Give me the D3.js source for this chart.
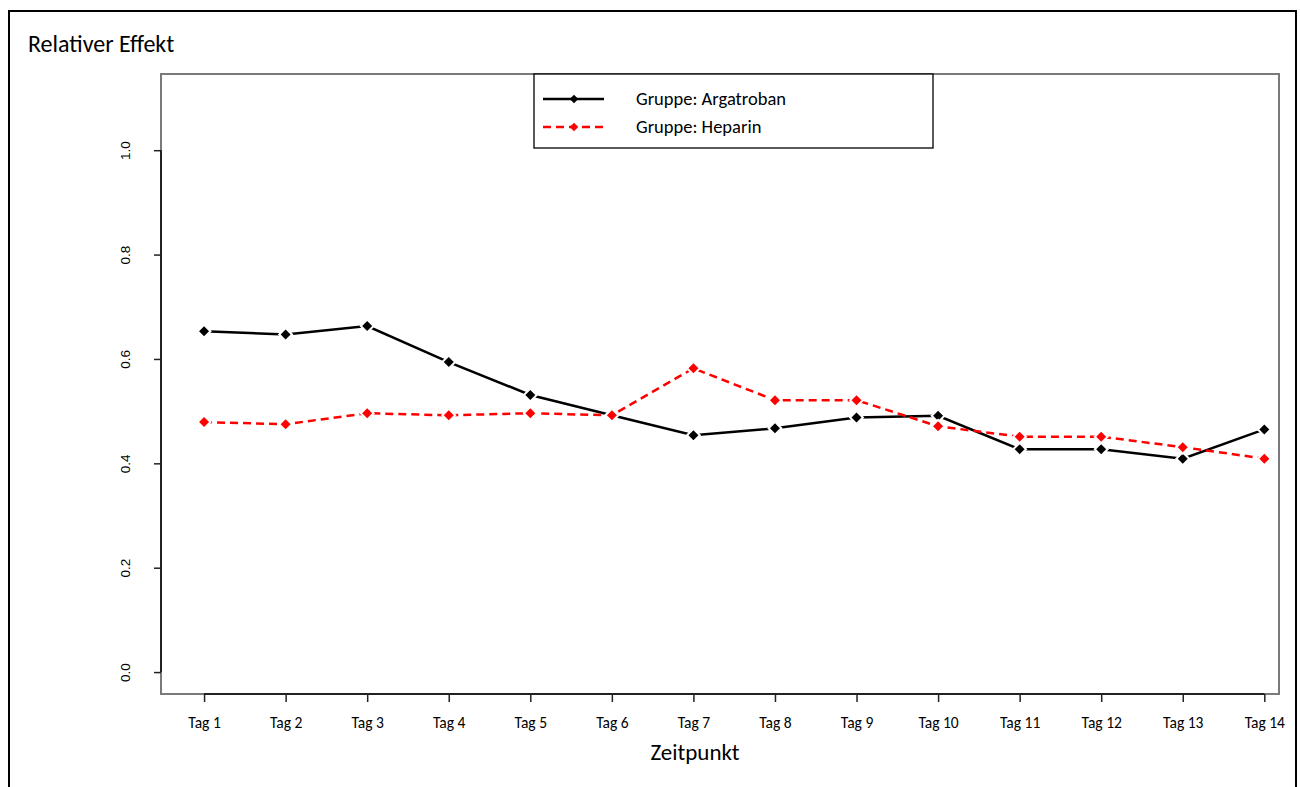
<!DOCTYPE html>
<html>
<head>
<meta charset="utf-8">
<script src="https://cdn.jsdelivr.net/npm/d3@7/dist/d3.min.js"></script>
<style>
  html, body { margin: 0; padding: 0; background: #fff; }
  svg { display: block; }
</style>
</head>
<body>
<svg id="chart" width="1300" height="787"></svg>
<script>
const categories = ["Tag 1","Tag 2","Tag 3","Tag 4","Tag 5","Tag 6","Tag 7","Tag 8","Tag 9","Tag 10","Tag 11","Tag 12","Tag 13","Tag 14"];
const argatroban = [0.653, 0.647, 0.663, 0.594, 0.531, 0.492, 0.454, 0.467, 0.488, 0.491, 0.427, 0.427, 0.409, 0.465];
const heparin    = [0.479, 0.475, 0.496, 0.492, 0.496, 0.492, 0.582, 0.521, 0.521, 0.471, 0.451, 0.451, 0.431, 0.409];
const yTicks = [0.0, 0.2, 0.4, 0.6, 0.8, 1.0];
const seriesNames = ["Gruppe: Argatroban", "Gruppe: Heparin"];
const seriesColors = ["#000000", "#ff0000"];

const calibri = "Carlito, Calibri, Lato, sans-serif";
const arial = "'Liberation Sans', Arial, sans-serif";

const svg = d3.select("#chart");

// outer frame
svg.append("rect").attr("x", 9).attr("y", 11).attr("width", 1287).attr("height", 800)
  .attr("fill", "none").attr("stroke", "#000").attr("stroke-width", 2);

svg.append("text").attr("x", 28).attr("y", 52).attr("font-family", calibri)
  .attr("font-size", 24).attr("fill", "#000").text("Relativer Effekt");

const L = 161, R = 1279, T = 74, B = 694;
const x = d3.scaleLinear().domain([0.472, 14.18]).range([L, R]);
const y = d3.scaleLinear().domain([-0.042, 1.146]).range([B, T]);

// plot box
svg.append("rect").attr("x", L).attr("y", T).attr("width", R - L).attr("height", B - T)
  .attr("fill", "none").attr("stroke", "#7a7a7a").attr("stroke-width", 2);

// y axis
const yAxis = d3.axisLeft(y).tickValues(yTicks).tickFormat(d3.format(".1f")).tickSize(7).tickPadding(0);
const gy = svg.append("g").attr("transform", `translate(${L},0)`).call(yAxis);
gy.select(".domain").remove();
gy.append("line").attr("x1", 0).attr("x2", 0).attr("y1", y(0)).attr("y2", y(1))
  .attr("stroke", "#222").attr("stroke-width", 2);
gy.selectAll(".tick line").attr("stroke", "#222").attr("stroke-width", 1.5);
gy.selectAll(".tick text")
  .attr("font-family", arial).attr("font-size", 13.5).attr("fill", "#000")
  .attr("text-anchor", "middle")
  .attr("transform", "translate(-31,0) rotate(-90)").attr("x", 0).attr("y", 0).attr("dy", 0);

// x axis
const xAxis = d3.axisBottom(x).tickValues(d3.range(1, categories.length + 1))
  .tickFormat(i => categories[i - 1]).tickSize(8).tickPadding(0);
const gx = svg.append("g").attr("transform", `translate(0,${B})`).call(xAxis);
gx.select(".domain").remove();
gx.append("line").attr("x1", x(1)).attr("x2", x(categories.length)).attr("y1", 0).attr("y2", 0)
  .attr("stroke", "#222").attr("stroke-width", 2);
gx.selectAll(".tick line").attr("stroke", "#222").attr("stroke-width", 1.5);
gx.selectAll(".tick text").attr("font-family", calibri).attr("font-size", 15.5)
  .attr("fill", "#000").attr("y", 34).attr("dy", 0);

svg.append("text").attr("x", (L + R) / 2 - 25).attr("y", 760).attr("text-anchor", "middle")
  .attr("font-family", calibri).attr("font-size", 23).attr("fill", "#000").text("Zeitpunkt");

// series
const diamondPath = r => `M0,${-r}L${r},0L0,${r}L${-r},0Z`;
function drawSeries(vals, color, dash) {
  const pts = vals.map((v, i) => [x(i + 1), y(v)]);
  svg.append("path").attr("d", d3.line()(pts)).attr("fill", "none")
    .attr("stroke", color).attr("stroke-width", 2.5)
    .attr("stroke-dasharray", dash || null);
  const g = svg.append("g");
  g.selectAll("path.halo").data(pts).join("path").attr("class", "halo")
    .attr("transform", d => `translate(${d[0]},${d[1]})`)
    .attr("d", diamondPath(7.8)).attr("fill", "#fff");
  g.selectAll("path.pt").data(pts).join("path").attr("class", "pt")
    .attr("transform", d => `translate(${d[0]},${d[1]})`)
    .attr("d", diamondPath(5)).attr("fill", color);
}
drawSeries(argatroban, seriesColors[0], null);
drawSeries(heparin, seriesColors[1], "8,5");

// legend
const lg = svg.append("g");
lg.append("rect").attr("x", 534).attr("y", T).attr("width", 399).attr("height", 74)
  .attr("fill", "#fff").attr("stroke", "#000").attr("stroke-width", 1.3);
seriesNames.forEach((name, i) => {
  const yy = 99 + i * 28;
  lg.append("line").attr("x1", 543).attr("x2", 604).attr("y1", yy).attr("y2", yy)
    .attr("stroke", seriesColors[i]).attr("stroke-width", 2.5)
    .attr("stroke-dasharray", i === 1 ? "8,5" : null);
  lg.append("path").attr("transform", `translate(574,${yy})`).attr("d", diamondPath(4.3))
    .attr("fill", seriesColors[i]);
  lg.append("text").attr("x", 636).attr("y", yy + 6).attr("font-family", calibri)
    .attr("font-size", 18.5).attr("fill", "#000").text(name);
});
</script>
</body>
</html>
